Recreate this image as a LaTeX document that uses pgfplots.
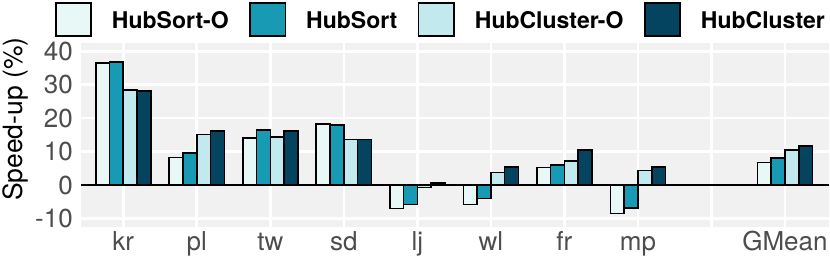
\documentclass[border=0pt]{standalone}
\usepackage{pgfplots}
\pgfplotsset{compat=1.18}
\usepackage{pgfplotstable}
\usepackage{fontspec}
\setmainfont{TeX Gyre Heros}
\definecolor{cHSO}{HTML}{E7F8F7}
\definecolor{cHS}{HTML}{189AB4}
\definecolor{cHCO}{HTML}{C1E9EE}
\definecolor{cHC}{HTML}{05445E}
\definecolor{panelbg}{HTML}{F1F1F1}
\definecolor{tickgray}{HTML}{4D4D4D}
\pgfplotstableread{
x hso hs hco hc
0 36.6 36.9 28.4 28.1
1 8.2 9.6 15.1 16.2
2 14.0 16.4 14.3 16.1
3 18.2 17.9 13.6 13.6
4 -7.0 -5.8 -0.7 0.6
5 -5.8 -4.0 3.7 5.4
6 5.2 6.0 7.2 10.5
7 -8.5 -6.9 4.4 5.3
9 6.7 8.1 10.4 11.6
}\datatable
\begin{document}
\begin{tikzpicture}
\useasboundingbox (-81bp,-38bp) rectangle (749bp,227bp);
\begin{axis}[
  at={(0,0)}, anchor=south west,
  scale only axis, width=748bp, height=184bp,
  xmin=-0.575, xmax=9.599, ymin=-12.57, ymax=42.5,
  ybar=0pt, bar width=0.1875,
  axis background/.style={fill=panelbg},
  axis line style={draw=none},
  major tick length=0pt,
  xtick={0,...,9}, xticklabels={kr,pl,tw,sd,lj,wl,fr,mp,{},GMean},
  ytick={-10,0,10,20,30,40}, yticklabels={-10,0,10,20,30,40},
  grid=major, major grid style={white, line width=2.6bp},
  extra y ticks={0}, extra y tick labels={},
  extra y tick style={grid=major, major grid style={black, line width=2bp}},
  tick label style={font=\fontsize{26bp}{30bp}\selectfont, text=tickgray, inner sep=0pt},
  yticklabel style={xshift=-8bp},
  xticklabel style={yshift=-4.7bp, text height=18.7bp, text depth=0pt},
  ylabel={Speed-up (\%)},
  every axis y label/.style={at={(rel axis cs:-0.1043,0.586)}, rotate=90, anchor=north, inner sep=0pt, font=\fontsize{26.5bp}{30bp}\selectfont},
  legend columns=4,
  legend image code/.code={\draw[#1, line width=1.6bp] (0.8bp,-7.2bp) rectangle (36.2bp,26.2bp);},
  legend style={at={(rel axis cs:-0.03476,1)}, anchor=south west, yshift=6bp,
    draw=none, fill=none, inner sep=0pt, outer sep=0pt,
    font=\fontsize{23bp}{27bp}\selectfont\bfseries,
    nodes={inner sep=0pt, anchor=base west},
    /tikz/every odd column/.append style={column sep=20bp},
    /tikz/every even column/.append style={column sep=20.5bp}},
]
\addplot[fill=cHSO, draw=black, line width=1.6bp] table[x=x,y=hso]{\datatable};
\addplot[fill=cHS, draw=black, line width=1.6bp] table[x=x,y=hs]{\datatable};
\addplot[fill=cHCO, draw=black, line width=1.6bp] table[x=x,y=hco]{\datatable};
\addplot[fill=cHC, draw=black, line width=1.6bp] table[x=x,y=hc]{\datatable};
\legend{HubSort-O,HubSort,HubCluster-O,HubCluster}
\end{axis}
\end{tikzpicture}
\end{document}
